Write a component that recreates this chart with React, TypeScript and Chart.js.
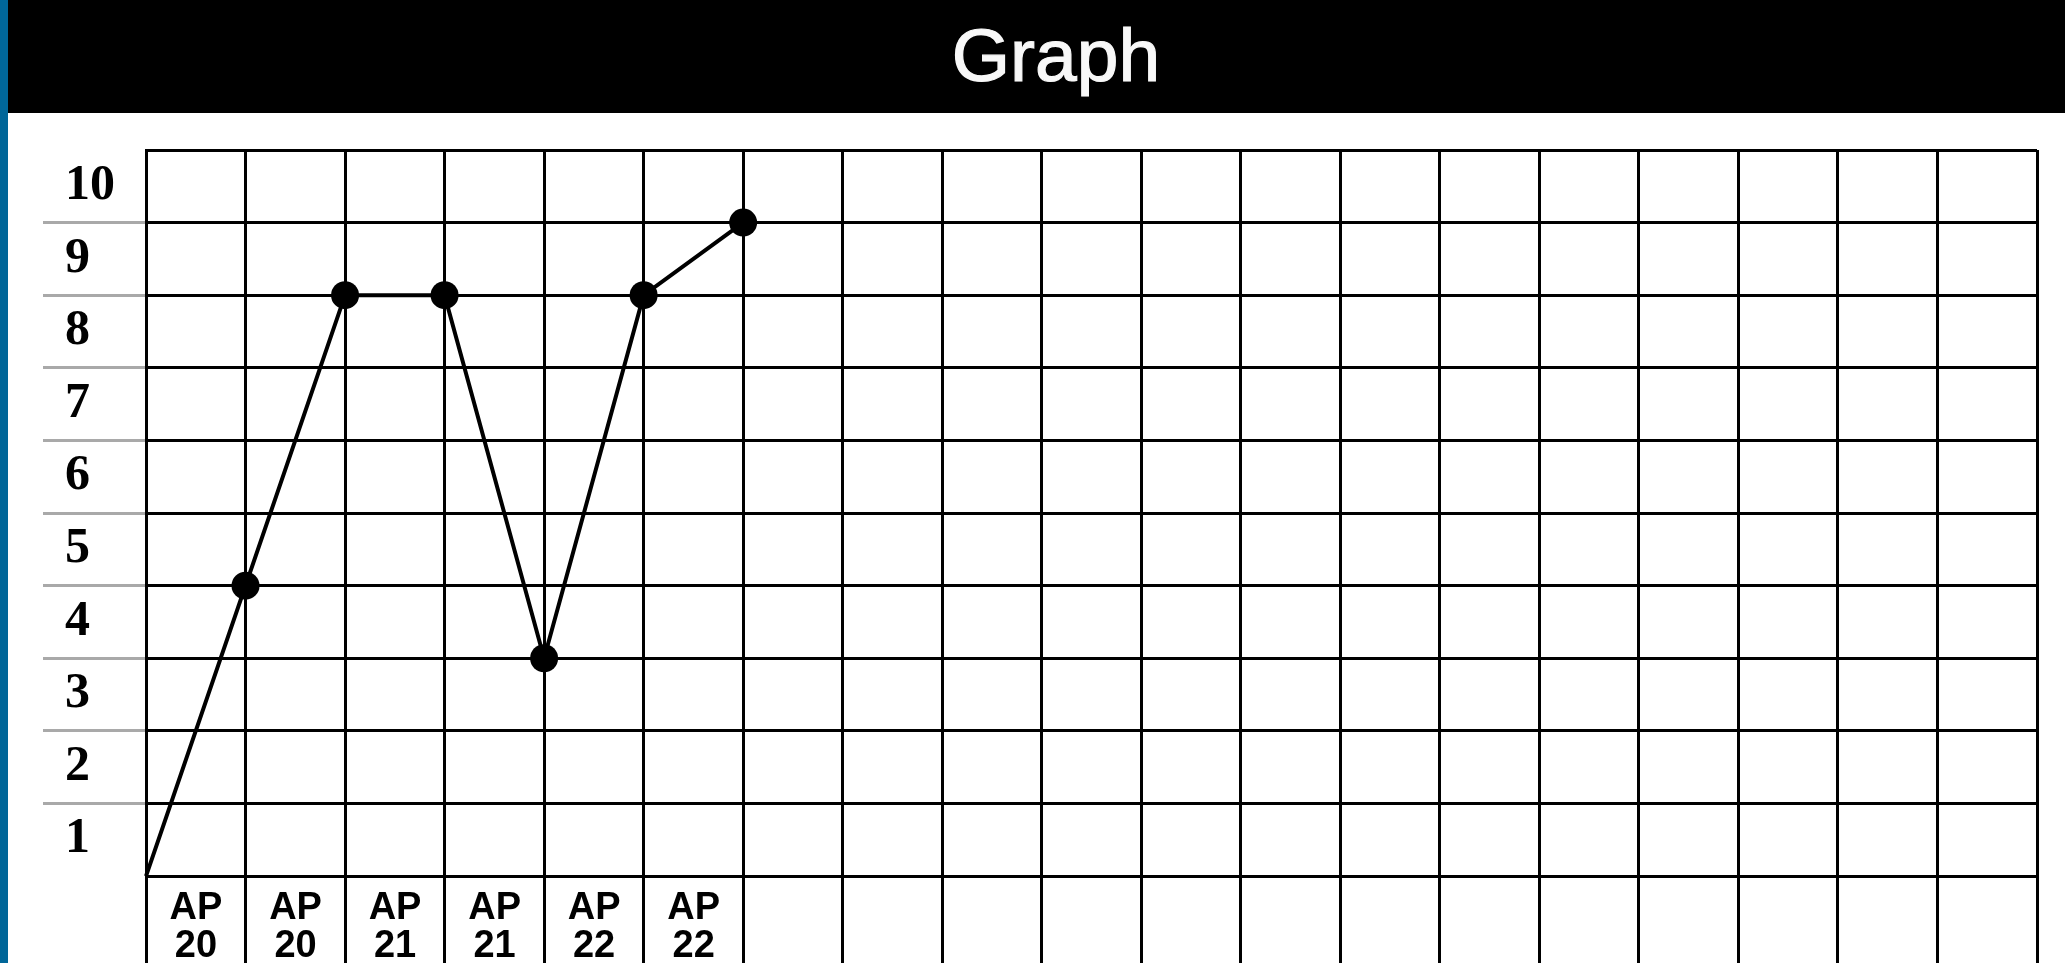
import React, { useEffect, useRef } from 'react';
import { Chart, registerables } from 'chart.js';

Chart.register(...registerables);

// ---- data ----
const title = 'Graph';
const categories: string[][] = [
  ['AP', '20'],
  ['AP', '20'],
  ['AP', '21'],
  ['AP', '21'],
  ['AP', '22'],
  ['AP', '22'],
];
const pointIndex: number[] = [0, 1, 2, 3, 4, 5, 6];
const values: number[] = [0, 4, 8, 8, 3, 8, 9];
const yTicks: number[] = [0, 1, 2, 3, 4, 5, 6, 7, 8, 9, 10];
const yTickLabels: string[] = ['', '1', '2', '3', '4', '5', '6', '7', '8', '9', '10'];
const columnCount = 19;

const CANVAS_H = 902;

export default function App() {
  const canvasRef = useRef<HTMLCanvasElement | null>(null);

  useEffect(() => {
    const canvas = canvasRef.current;
    if (!canvas) return;
    const chart = new Chart(canvas, {
      type: 'line',
      data: {
        datasets: [
          {
            data: pointIndex.map((x, i) => ({ x, y: values[i] })),
            borderColor: '#000',
            borderWidth: 4,
            pointRadius: values.map((_, i) => (i === 0 ? 0 : 14)),
            pointBackgroundColor: '#000',
            pointBorderColor: '#000',
            pointBorderWidth: 0,
            tension: 0,
            clip: false as any,
          },
        ],
      },
      options: {
        responsive: false,
        animation: false,
        events: [],
        layout: { padding: { left: 57, top: 37, right: 28, bottom: 0 } },
        plugins: {
          legend: { display: false },
          tooltip: { enabled: false },
          title: { display: false },
        },
        scales: {
          x: {
            type: 'linear',
            min: 0,
            max: columnCount,
            position: { y: 0 } as any,
            afterBuildTicks: (s: any) => {
              s.ticks = Array.from({ length: columnCount + 1 }, (_, i) => ({ value: i }));
            },
            grid: { color: '#000', lineWidth: 3, drawTicks: false },
            border: { display: true, color: '#000', width: 3 },
            ticks: {
              callback: (v: any) => categories[v as number] ?? '',
              labelOffset: 50,
              padding: 13,
              maxRotation: 0,
              minRotation: 0,
              autoSkip: false,
              color: '#000',
              font: { family: '"Liberation Sans", Arial, sans-serif', size: 38, weight: 'bold', lineHeight: 1 },
            },
          },
          y: {
            type: 'linear',
            min: -1.5,
            max: 10,
            afterBuildTicks: (s: any) => {
              s.ticks = yTicks.map((v) => ({ value: v }));
            },
            afterFit: (s: any) => {
              s.width = 81;
            },
            grid: {
              color: '#000',
              lineWidth: 3,
              tickLength: 103,
              tickWidth: 3,
              tickColor: (ctx: any) =>
                ctx.tick && ctx.tick.value > 0 && ctx.tick.value < 10 ? '#a9a9a9' : 'rgba(0,0,0,0)',
            },
            border: { display: true, color: '#000', width: 3 },
            ticks: {
              callback: (v: any) => yTickLabels[yTicks.indexOf(v as number)] ?? '',
              labelOffset: 36,
              crossAlign: 'far',
              padding: 0,
              color: '#000',
              font: { family: '"Liberation Serif", "Times New Roman", serif', size: 50, weight: 'bold' },
            },
          },
        },
      } as any,
    });
    return () => chart.destroy();
  }, []);

  return (
    <div
      style={{
        position: 'fixed',
        left: 0,
        top: 0,
        width: 2065,
        height: 963,
        overflow: 'hidden',
        background: '#fff',
      }}
    >
      <div style={{ position: 'absolute', left: 0, top: 0, width: 8, height: 963, background: '#006699' }} />
      <div style={{ position: 'absolute', left: 8, top: 0, width: 2057, height: 113, background: '#000' }}>
        <span
          style={{
            position: 'absolute',
            left: 1048,
            top: 12,
            transform: 'translateX(-50%)',
            color: '#f8f8f8',
            fontFamily: '"Liberation Sans", Arial, sans-serif',
            fontSize: 75,
            lineHeight: 'normal',
            whiteSpace: 'nowrap',
            WebkitTextStroke: '1.2px #f8f8f8',
          }}
        >
          {title}
        </span>
      </div>
      <div style={{ position: 'absolute', left: 8, top: 113, width: 2057, height: CANVAS_H }}>
        <canvas
          ref={canvasRef}
          width={2057}
          height={CANVAS_H}
          style={{ width: 2057, height: CANVAS_H, display: 'block' }}
        />
      </div>
    </div>
  );
}
